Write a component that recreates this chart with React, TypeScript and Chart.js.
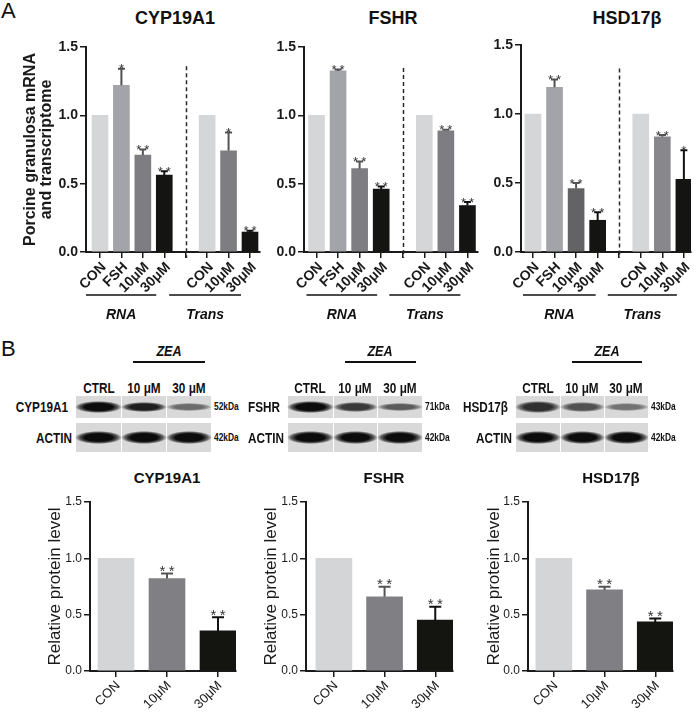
import React, { useEffect, useRef } from 'react';
import { Chart, registerables } from 'chart.js';

Chart.register(...registerables);

const SANS = "'Liberation Sans', Arial, Helvetica, sans-serif";
const NARROW = "'Liberation Sans Narrow', 'Liberation Sans', Arial, sans-serif";
Chart.defaults.font.family = SANS;
Chart.defaults.color = '#1a1a1a';

// ---------- Panel A: mRNA and transcriptome ----------
const mrnaCategories = ['CON', 'FSH', '10μM', '30μM', '', 'CON', '10μM', '30μM'];
const mrnaGroupLabels = ['RNA', 'Trans'];
const mrnaGroupFrom = [0, 5];
const mrnaGroupTo = [3, 7];
const mrnaTitles = ['CYP19A1', 'FSHR', 'HSD17β'];
const mrnaYTitle = ['Porcine granulosa mRNA', 'and transcriptome'];
const mrnaDividerIndex = 4;

const cypMrnaMean = [1.0, 1.22, 0.71, 0.563, null, 1.0, 0.74, 0.146];
const cypMrnaSem = [0, 0.12, 0.04, 0.027, null, 0, 0.135, 0.01];
const cypMrnaSig = ['', '*', '**', '**', '', '', '*', '**'];

const fshrMrnaMean = [1.0, 1.325, 0.61, 0.46, null, 1.0, 0.887, 0.34];
const fshrMrnaSem = [0, 0.01, 0.052, 0.02, null, 0, 0.008, 0.026];
const fshrMrnaSig = ['', '**', '**', '**', '', '', '**', '**'];

const hsdMrnaMean = [1.0, 1.193, 0.46, 0.23, null, 1.0, 0.835, 0.527];
const hsdMrnaSem = [0, 0.057, 0.04, 0.058, null, 0, 0.012, 0.21];
const hsdMrnaSig = ['', '**', '**', '**', '', '', '**', '*'];

const yTickValues = [0, 0.5, 1.0, 1.5];

// ---------- Panel B: western blot quantification ----------
const proteinCategories = ['CON', '10μM', '30μM'];
const proteinTitles = ['CYP19A1', 'FSHR', 'HSD17β'];
const proteinYTitle = 'Relative protein level';

const cypProteinMean = [1.0, 0.82, 0.356];
const cypProteinSem = [0, 0.045, 0.12];
const cypProteinSig = ['', '**', '**'];

const fshrProteinMean = [1.0, 0.659, 0.451];
const fshrProteinSem = [0, 0.089, 0.119];
const fshrProteinSig = ['', '**', '**'];

const hsdProteinMean = [1.0, 0.72, 0.436];
const hsdProteinSem = [0, 0.028, 0.031];
const hsdProteinSig = ['', '**', '**'];

const blotLanes = ['CTRL', '10 μM', '30 μM'];
const blotTreatment = 'ZEA';
const blotTargets = ['CYP19A1', 'FSHR', 'HSD17β'];
const blotTargetKDa = ['52kDa', '71kDa', '43kDa'];
const blotLoading = 'ACTIN';
const blotLoadingKDa = '42kDa';
const actinLevel = [1, 1, 1];
const blotLevels = [cypProteinMean, fshrProteinMean, hsdProteinMean];

// ---------- styles ----------
const mrnaColors = ['#d5d6d8', '#a2a4aa', '#7e7e82', '#141412', 'rgba(0,0,0,0)', '#d5d6d8', '#7e7e82', '#141412'];
const hsdMrnaColors = ['#d5d6d8', '#a2a4aa', '#636365', '#141412', 'rgba(0,0,0,0)', '#d5d6d8', '#88888c', '#141412'];
const mrnaErrColors = ['#999', '#505050', '#555', '#111', '#111', '#999', '#555', '#111'];
const proteinColors = ['#d4d5d7', '#808084', '#141410'];
const proteinErrColors = ['#999', '#555', '#111'];

type Box = { left: number; top: number; width: number; height: number };
type Area = { left: number; top: number; right: number; bottom: number };

interface PanelProps {
  box: Box;
  area: Area;
  labels: string[];
  values: (number | null)[];
  errs: (number | null)[];
  sig: string[];
  colors: string[];
  errColors: string[];
  xRange: [number, number];
  barThickness: number;
  capHalf: number;
  yTickFont: any;
  xTickFont: any;
  xLabelShift: number;
  yTitle?: string | string[];
  yTitleFont?: any;
  yTitlePad?: number;
  starSize: number;
  starGap: number;
  divider?: number;
  dividerTop?: number;
  groups?: { label: string; from: number; to: number; so: number; eo: number }[];
  groupLineDy?: number;
  groupLabelDy?: number;
}

function BarPanel(p: PanelProps) {
  const ref = useRef<HTMLCanvasElement>(null);
  useEffect(() => {
    const { box, area } = p;
    const annot = {
      id: 'annot',
      afterDatasetsDraw(chart: any) {
        const ctx = chart.ctx;
        const xs = chart.scales.x;
        const ys = chart.scales.y;
        ctx.save();
        if (p.divider != null) {
          const x = Math.round(xs.getPixelForValue(p.divider)) + 0.5;
          ctx.setLineDash([4, 3]);
          ctx.strokeStyle = '#2a2a2a';
          ctx.lineWidth = 1.5;
          ctx.beginPath();
          ctx.moveTo(x, ys.getPixelForValue(p.dividerTop ?? 1.35));
          ctx.lineTo(x, ys.bottom + 6);
          ctx.stroke();
          ctx.setLineDash([]);
        }
        p.values.forEach((v, i) => {
          if (v == null) return;
          const e = p.errs[i] || 0;
          const x = xs.getPixelForValue(i);
          const yb = ys.getPixelForValue(v);
          const yt = ys.getPixelForValue(v + e);
          if (e > 0) {
            ctx.strokeStyle = p.errColors[i];
            ctx.lineWidth = 2;
            ctx.beginPath();
            ctx.moveTo(x, yb);
            ctx.lineTo(x, yt);
            ctx.moveTo(x - p.capHalf, yt);
            ctx.lineTo(x + p.capHalf, yt);
            ctx.stroke();
          }
          const s = p.sig[i];
          if (s) {
            ctx.fillStyle = '#333';
            ctx.font = `${p.starSize}px ${SANS}`;
            ctx.textAlign = 'center';
            ctx.textBaseline = 'alphabetic';
            const n = s.length;
            const step = p.starSize * 0.62;
            const base = yt - p.starGap + p.starSize * 0.43;
            for (let k = 0; k < n; k++) {
              ctx.fillText('*', x + (k - (n - 1) / 2) * step, base);
            }
          }
        });
        if (p.groups) {
          p.groups.forEach((g) => {
            const x1 = xs.getPixelForValue(g.from) + g.so;
            const x2 = xs.getPixelForValue(g.to) + g.eo;
            const yl = ys.bottom + (p.groupLineDy ?? 43);
            ctx.strokeStyle = '#111';
            ctx.lineWidth = 1.5;
            ctx.beginPath();
            ctx.moveTo(x1, yl);
            ctx.lineTo(x2, yl);
            ctx.stroke();
            ctx.fillStyle = '#111';
            ctx.font = `italic bold 14px ${SANS}`;
            ctx.textAlign = 'center';
            ctx.textBaseline = 'middle';
            ctx.fillText(g.label, (x1 + x2) / 2, ys.bottom + (p.groupLabelDy ?? 63));
          });
        }
        ctx.restore();
      },
    };

    const config: any = {
      type: 'bar',
      data: {
        datasets: [
          {
            data: p.values.map((v, i) => ({ x: i, y: v })),
            backgroundColor: p.colors,
            borderWidth: 0,
            barThickness: p.barThickness,
          },
        ],
      },
      options: {
        responsive: false,
        animation: false,
        events: [],
        layout: {
          padding: {
            left: 0,
            top: area.top - box.top,
            right: box.left + box.width - area.right,
            bottom: 0,
          },
        },
        plugins: { legend: { display: false }, tooltip: { enabled: false } },
        scales: {
          x: {
            type: 'linear',
            offset: false,
            min: p.xRange[0],
            max: p.xRange[1],
            afterBuildTicks: (s: any) => {
              s.ticks = p.labels.map((_, i) => ({ value: i }));
            },
            ticks: {
              autoSkip: false,
              maxRotation: 45,
              minRotation: 45,
              padding: 1,
              labelOffset: p.xLabelShift,
              font: p.xTickFont,
              color: '#1a1a1a',
              callback: (v: any) => p.labels[v] ?? '',
            },
            grid: { display: true, offset: false, drawOnChartArea: false, drawTicks: true, tickLength: 6, color: '#1a1a1a', lineWidth: 1.5 },
            border: { display: true, color: '#1a1a1a', width: 2 },
            afterFit: (s: any) => {
              s.height = box.top + box.height - area.bottom;
            },
          },
          y: {
            min: 0,
            max: 1.5,
            afterBuildTicks: (s: any) => {
              s.ticks = yTickValues.map((v) => ({ value: v }));
            },
            ticks: {
              padding: 2,
              font: p.yTickFont,
              color: '#1a1a1a',
              callback: (v: any) => Number(v).toFixed(1),
            },
            grid: { display: true, drawOnChartArea: false, drawTicks: true, tickLength: 6, color: '#1a1a1a', lineWidth: 1.5 },
            border: { display: true, color: '#1a1a1a', width: 2 },
            title: p.yTitle
              ? {
                  display: true,
                  text: p.yTitle,
                  font: p.yTitleFont,
                  color: '#1a1a1a',
                  padding: { top: p.yTitlePad ?? 4, bottom: 0 },
                }
              : { display: false },
            afterFit: (s: any) => {
              s.width = area.left - box.left;
            },
          },
        },
      },
      plugins: [annot],
    };
    const chart = new Chart(ref.current as HTMLCanvasElement, config);
    return () => chart.destroy();
  }, []);
  return (
    <canvas
      ref={ref}
      width={p.box.width}
      height={p.box.height}
      style={{ position: 'absolute', left: p.box.left, top: p.box.top, width: p.box.width, height: p.box.height }}
    />
  );
}

function Txt(props: {
  x: number;
  y: number;
  text: string;
  size: number;
  weight?: string | number;
  italic?: boolean;
  align?: 'left' | 'center' | 'right';
  family?: string;
  color?: string;
  squeeze?: number;
}) {
  const a = props.align ?? 'center';
  const tx = a === 'center' ? '-50%' : a === 'right' ? '-100%' : '0';
  const sq = props.squeeze ?? 1;
  return (
    <div
      style={{
        position: 'absolute',
        left: props.x,
        top: props.y,
        transform: `translate(${tx}, -50%)`,
        whiteSpace: 'nowrap',
        lineHeight: 1,
        fontSize: props.size,
        fontWeight: props.weight ?? 'normal',
        fontStyle: props.italic ? 'italic' : 'normal',
        fontFamily: props.family ?? SANS,
        color: props.color ?? '#111',
      }}
    >
      <span style={{ display: 'inline-block', transform: `scaleX(${sq})`, transformOrigin: a === 'center' ? '50% 50%' : a === 'right' ? '100% 50%' : '0 50%' }}>
        {props.text}
      </span>
    </div>
  );
}

// blot geometry (layout only)
const blotBoxes: [number, number][] = [
  [76, 211],
  [288, 422],
  [516, 648],
];
const blotExposure = [1, 1, 0.72];
const rowTarget: [number, number] = [396, 418];
const rowActin: [number, number] = [423, 452];
const SQ = 0.84;

function BlotRow(props: { left: number; right: number; row: [number, number]; levels: number[]; exposure: number; maxH: number }) {
  const w = (props.right - props.left) / props.levels.length;
  const h = props.row[1] - props.row[0];
  return (
    <>
      {props.levels.map((lv, j) => {
        const bh = Math.max(4, props.maxH * (0.45 + 0.55 * lv));
        const a = Math.min(1, 0.25 + 0.8 * lv * props.exposure);
        return (
          <div
            key={j}
            style={{
              position: 'absolute',
              left: props.left + j * w + (j > 0 ? 1 : 0),
              top: props.row[0],
              width: w - (j > 0 ? 1 : 0),
              height: h,
              background: '#d9d9d9',
            }}
          >
            <div
              style={{
                position: 'absolute',
                left: -1,
                right: -1,
                top: (h - bh) / 2,
                height: bh,
                background: `radial-gradient(ellipse closest-side, rgba(12,12,12,${a}) 60%, rgba(12,12,12,${a * 0.6}) 82%, rgba(12,12,12,0) 100%)`,
              }}
            />
          </div>
        );
      })}
    </>
  );
}

function Blot({ i }: { i: number }) {
  const [l, r] = blotBoxes[i];
  const w = (r - l) / blotLanes.length;
  const zx1 = l + w + 12;
  const zx2 = r - 6;
  return (
    <>
      <Txt x={(zx1 + zx2) / 2} y={350} text={blotTreatment} size={15} weight="bold" italic family={NARROW} squeeze={SQ} />
      <div style={{ position: 'absolute', left: zx1, top: 361, width: zx2 - zx1, height: 2, background: '#111' }} />
      {blotLanes.map((t, j) => (
        <Txt key={j} x={l + w * (j + 0.5)} y={388} text={t} size={14} weight="bold" family={NARROW} squeeze={SQ} />
      ))}
      <BlotRow left={l} right={r} row={rowTarget} levels={blotLevels[i]} exposure={blotExposure[i]} maxH={12} />
      <BlotRow left={l} right={r} row={rowActin} levels={actinLevel} exposure={1} maxH={13} />
      <Txt x={l - 8} y={(rowTarget[0] + rowTarget[1]) / 2} text={blotTargets[i]} size={14} weight="bold" family={NARROW} align="right" squeeze={SQ} />
      <Txt x={l - 4} y={(rowActin[0] + rowActin[1]) / 2} text={blotLoading} size={14} weight="bold" family={NARROW} align="right" squeeze={SQ} />
      <Txt x={r + 3} y={(rowTarget[0] + rowTarget[1]) / 2} text={blotTargetKDa[i]} size={10} weight="bold" family={NARROW} align="left" squeeze={SQ} />
      <Txt x={r + 3} y={(rowActin[0] + rowActin[1]) / 2} text={blotLoadingKDa} size={10} weight="bold" family={NARROW} align="left" squeeze={SQ} />
    </>
  );
}

const topTickFont = { size: 14, weight: 'bold' };
const topXFont = { size: 14, weight: 'bold' };
const botTickFont = { size: 12, weight: 'normal' };
const botXFont = { size: 13, weight: 'normal' };

function mrnaGroups(so: [number, number][]) {
  return mrnaGroupLabels.map((label, k) => ({
    label,
    from: mrnaGroupFrom[k],
    to: mrnaGroupTo[k],
    so: so[k][0],
    eo: so[k][1],
  }));
}

export default function App() {
  return (
    <div style={{ position: 'absolute', left: 0, top: 0, width: 700, height: 712, background: '#fff', overflow: 'hidden', fontFamily: SANS }}>
      <Txt x={1} y={11} text="A" size={22} align="left" />
      <Txt x={1} y={349} text="B" size={22} align="left" />

      <Txt x={175} y={18} text={mrnaTitles[0]} size={18} weight="bold" />
      <Txt x={393} y={18} text={mrnaTitles[1]} size={18} weight="bold" />
      <Txt x={627} y={18} text={mrnaTitles[2]} size={18} weight="bold" />

      <BarPanel
        box={{ left: 0, top: 30, width: 270, height: 300 }}
        area={{ left: 86, top: 47, right: 260, bottom: 252 }}
        labels={mrnaCategories}
        values={cypMrnaMean}
        errs={cypMrnaSem}
        sig={cypMrnaSig}
        colors={mrnaColors}
        errColors={mrnaErrColors}
        xRange={[-0.653, 7.467]}
        barThickness={16}
        capHalf={3.5}
        yTickFont={topTickFont}
        xTickFont={topXFont}
        xLabelShift={4}
        yTitle={mrnaYTitle}
        yTitleFont={{ size: 16, weight: 'bold', lineHeight: 1 }}
        yTitlePad={23}
        starSize={13}
        starGap={1}
        divider={mrnaDividerIndex}
        dividerTop={1.36}
        groups={mrnaGroups([[-14, -8], [-38, -9]])}
      />
      <BarPanel
        box={{ left: 230, top: 30, width: 260, height: 300 }}
        area={{ left: 304, top: 47, right: 478, bottom: 252 }}
        labels={mrnaCategories}
        values={fshrMrnaMean}
        errs={fshrMrnaSem}
        sig={fshrMrnaSig}
        colors={mrnaColors}
        errColors={mrnaErrColors}
        xRange={[-0.58, 7.49]}
        barThickness={16}
        capHalf={3.5}
        yTickFont={topTickFont}
        xTickFont={topXFont}
        xLabelShift={4}
        starSize={13}
        starGap={1}
        divider={mrnaDividerIndex}
        dividerTop={1.346}
        groups={mrnaGroups([[-10, -4], [-35, -7]])}
      />
      <BarPanel
        box={{ left: 455, top: 30, width: 245, height: 300 }}
        area={{ left: 521, top: 45, right: 691, bottom: 252 }}
        labels={mrnaCategories}
        values={hsdMrnaMean}
        errs={hsdMrnaSem}
        sig={hsdMrnaSig}
        colors={hsdMrnaColors}
        errColors={mrnaErrColors}
        xRange={[-0.556, 7.33]}
        barThickness={16}
        capHalf={3.5}
        yTickFont={topTickFont}
        xTickFont={topXFont}
        xLabelShift={4}
        starSize={13}
        starGap={1}
        divider={mrnaDividerIndex}
        dividerTop={1.33}
        groups={mrnaGroups([[-10, -2], [-33, -7]])}
      />

      <Blot i={0} />
      <Blot i={1} />
      <Blot i={2} />

      <Txt x={167} y={477} text={proteinTitles[0]} size={15} weight="bold" />
      <Txt x={384} y={477} text={proteinTitles[1]} size={15} weight="bold" />
      <Txt x={611} y={477} text={proteinTitles[2]} size={15} weight="bold" />

      <BarPanel
        box={{ left: 0, top: 490, width: 250, height: 222 }}
        area={{ left: 90, top: 502, right: 236, bottom: 671 }}
        labels={proteinCategories}
        values={cypProteinMean}
        errs={cypProteinSem}
        sig={cypProteinSig}
        colors={proteinColors}
        errColors={proteinErrColors}
        xRange={[-0.51, 2.353]}
        barThickness={36}
        capHalf={6}
        yTickFont={botTickFont}
        xTickFont={botXFont}
        xLabelShift={2}
        yTitle={proteinYTitle}
        yTitleFont={{ size: 17, weight: 'normal', lineHeight: 1.2 }}
        yTitlePad={45}
        starSize={15}
        starGap={4}
      />
      <BarPanel
        box={{ left: 235, top: 490, width: 235, height: 222 }}
        area={{ left: 306, top: 502, right: 453, bottom: 671 }}
        labels={proteinCategories}
        values={fshrProteinMean}
        errs={fshrProteinSem}
        sig={fshrProteinSig}
        colors={proteinColors}
        errColors={proteinErrColors}
        xRange={[-0.55, 2.35]}
        barThickness={36}
        capHalf={6}
        yTickFont={botTickFont}
        xTickFont={botXFont}
        xLabelShift={2}
        yTitle={proteinYTitle}
        yTitleFont={{ size: 17, weight: 'normal', lineHeight: 1.2 }}
        yTitlePad={26}
        starSize={15}
        starGap={4}
      />
      <BarPanel
        box={{ left: 460, top: 490, width: 240, height: 222 }}
        area={{ left: 528, top: 502, right: 673, bottom: 671 }}
        labels={proteinCategories}
        values={hsdProteinMean}
        errs={hsdProteinSem}
        sig={hsdProteinSig}
        colors={proteinColors}
        errColors={proteinErrColors}
        xRange={[-0.51, 2.35]}
        barThickness={36}
        capHalf={6}
        yTickFont={botTickFont}
        xTickFont={botXFont}
        xLabelShift={2}
        yTitle={proteinYTitle}
        yTitleFont={{ size: 17, weight: 'normal', lineHeight: 1.2 }}
        yTitlePad={24}
        starSize={15}
        starGap={4}
      />
    </div>
  );
}
